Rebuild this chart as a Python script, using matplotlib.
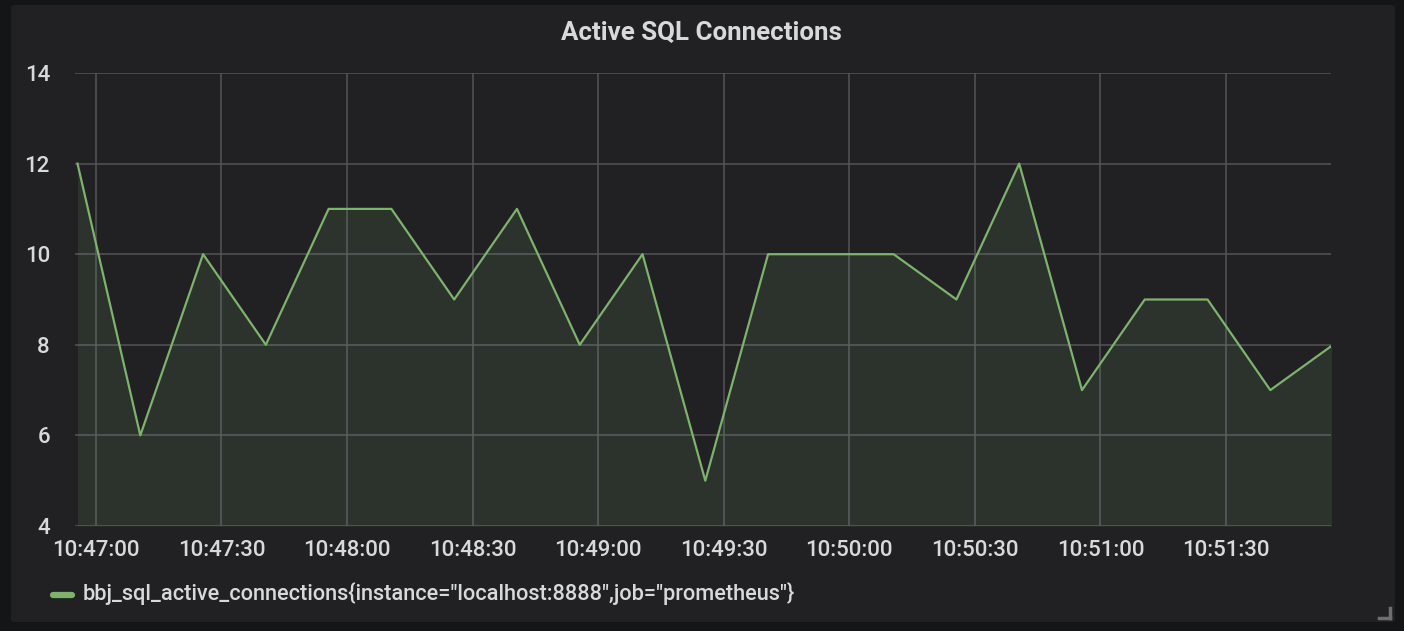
import datetime as dt
import matplotlib
matplotlib.use("Agg")
import matplotlib.pyplot as plt
import matplotlib.dates as mdates
from matplotlib.patches import FancyBboxPatch
from matplotlib.lines import Line2D

# ---- data ----
title = "Active SQL Connections"
series_name = 'bbj_sql_active_connections{instance="localhost:8888",job="prometheus"}'
times = ["10:46:55.6", "10:47:10.6", "10:47:25.6", "10:47:40.6", "10:47:55.6",
         "10:48:10.6", "10:48:25.6", "10:48:40.6", "10:48:55.6", "10:49:10.6",
         "10:49:25.6", "10:49:40.6", "10:49:55.6", "10:50:10.6", "10:50:25.6",
         "10:50:40.6", "10:50:55.6", "10:51:10.6", "10:51:25.6", "10:51:40.6",
         "10:51:55.6"]
values = [12, 6, 10, 8, 11, 11, 9, 11, 8, 10, 5, 10, 10, 10, 9, 12, 7, 9, 9, 7, 8]
y_ticks = [4, 6, 8, 10, 12, 14]
x_start = "10:46:55.0"
x_end = "10:51:55.1"

def parse(s):
    return dt.datetime.strptime("2024-01-01 " + s, "%Y-%m-%d %H:%M:%S.%f")

xs = [parse(t) for t in times]

W, H = 1404, 631
fig = plt.figure(figsize=(W / 100, H / 100), dpi=100)
fig.patch.set_facecolor("#141517")

# panel
panel = FancyBboxPatch((11 / W, (H - 622) / H), (1395 - 11) / W, (622 - 5) / H,
                       boxstyle="round,pad=0,rounding_size=0.004",
                       transform=fig.transFigure, facecolor="#212124",
                       edgecolor="none", zorder=-5)
fig.add_artist(panel)

ax = fig.add_axes([75 / W, (H - 526) / H, (1331 - 75) / W, (526 - 73) / H])
ax.set_zorder(2)
ax.set_facecolor("none")

green = "#7eb26d"
ax.plot(xs, values, color=green, lw=1.6, zorder=3, clip_on=True)
ax.fill_between(xs, values, y_ticks[0], color=green, alpha=0.12, lw=0, zorder=2)

ax.set_xlim(parse(x_start), parse(x_end))
ax.set_ylim(y_ticks[0], y_ticks[-1])
ax.set_yticks(y_ticks)
ax.xaxis.set_major_locator(mdates.SecondLocator(bysecond=[0, 30]))
ax.xaxis.set_major_formatter(mdates.DateFormatter("%H:%M:%S"))

for s in ax.spines.values():
    s.set_visible(False)
ax.grid(True, color="#555557", lw=1.1, zorder=1)
ax.set_axisbelow(True)

font = "Roboto"
ax.tick_params(axis="both", length=0, colors="#d8d9da", labelsize=16)
ax.tick_params(axis="y", pad=18)
ax.tick_params(axis="x", pad=10)
for lab in ax.get_xticklabels() + ax.get_yticklabels():
    lab.set_fontfamily(font)
    lab.set_fontweight("medium")

fig.text(701.5 / W, 1 - 33 / H, title, ha="center", va="center",
         fontsize=18.6, fontfamily=font, fontweight="bold", color="#d8d9da")

# legend
fig.add_artist(Line2D([53 / W, 72 / W], [1 - 595 / H, 1 - 595 / H],
                      transform=fig.transFigure, color=green, lw=4.5,
                      solid_capstyle="round"))
fig.text(83 / W, 1 - 594 / H, series_name, ha="left", va="center",
         fontsize=15.7, fontfamily=font, fontweight="medium", color="#d8d9da")

# resize handle
hc = "#6e6e70"
fig.add_artist(Line2D([1379 / W, 1390 / W], [1 - 618 / H, 1 - 618 / H],
                      transform=fig.transFigure, color=hc, lw=2.5))
fig.add_artist(Line2D([1390 / W, 1390 / W], [1 - 618 / H, 1 - 608 / H],
                      transform=fig.transFigure, color=hc, lw=2.5))

fig.savefig("out.png", dpi=100, facecolor=fig.get_facecolor())
